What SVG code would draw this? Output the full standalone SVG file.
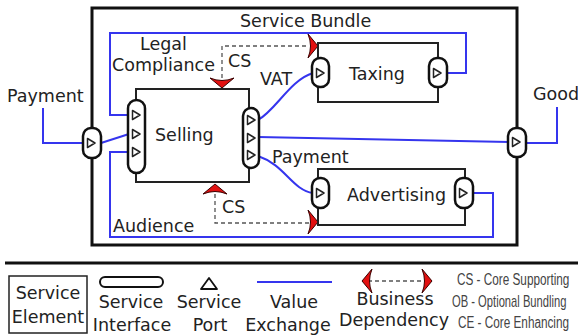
<svg xmlns="http://www.w3.org/2000/svg" width="578" height="335" viewBox="0 0 578 335">
<style>
text{font-family:"DejaVu Sans","Liberation Sans",sans-serif;font-size:17.5px;fill:#222}
.mid{text-anchor:middle}
.leg{font-family:"Liberation Sans",sans-serif;font-size:16px;fill:#444}
.box{fill:#fff;stroke:#222;stroke-width:2}
.port{fill:#fff;stroke:#111;stroke-width:2.5}
.tri{fill:#fff;stroke:#222;stroke-width:1.5;stroke-linejoin:round}
.val{fill:none;stroke:#3535ee;stroke-width:2}
.dep{fill:none;stroke:#555;stroke-width:1.3;stroke-dasharray:4 3}
</style>
<defs>
<path id="tr" class="tri" d="M-3.5,-4.5 L4,0 L-3.5,4.5 Z"/>
<path id="arr" d="M0,0 L-10,-12 Q-5,0 -10,12 Z" fill="#e21010" stroke="#3a0000" stroke-width="1" stroke-linejoin="round"/>
</defs>

<g id="bundle">
<rect x="92" y="8" width="425" height="237" fill="none" stroke="#111" stroke-width="3"/>
<text x="240" y="27">Service Bundle</text>
</g>

<g id="connectors">
<polyline class="val" points="43,108 43,143 83,143"/>
<line class="val" x1="101" y1="143" x2="129" y2="134"/>
<polyline class="val" points="448,73 466,73 466,33 110,33 110,115 129,115"/>
<polyline class="val" points="473,193 493,193 493,237 110,237 110,152 129,152"/>
<path class="val" d="M258,120 C276,110 290,80 313,73"/>
<path class="val" d="M258,156 C285,165 292,190 313,193"/>
<line class="val" x1="258" y1="137" x2="509" y2="142"/>
<polyline class="val" points="526,143 557,143 557,107"/>
<polyline class="dep" points="222,78 222,46 308,46"/>
<polyline class="dep" points="215,194 215,223 309,223"/>
<use href="#arr" transform="translate(222,88) rotate(90)"/>
<use href="#arr" transform="translate(318,46)"/>
<use href="#arr" transform="translate(215,184) rotate(-90)"/>
<use href="#arr" transform="translate(318,222)"/>
</g>

<g id="labels">
<text x="140" y="50">Legal</text>
<text x="112" y="71">Compliance</text>
<text x="228" y="67">CS</text>
<text x="260" y="85">VAT</text>
<text x="7" y="102">Payment</text>
<text x="533" y="100">Good</text>
<text x="272" y="163">Payment</text>
<text x="222" y="213">CS</text>
<text x="113" y="232">Audience</text>
</g>

<g id="outer-port-left">
<rect class="port" x="83" y="128" width="18" height="30" rx="8"/>
<use href="#tr" transform="translate(91,143)"/>
</g>
<g id="outer-port-right">
<rect class="port" x="508" y="128" width="18" height="29" rx="8"/>
<use href="#tr" transform="translate(516,142)"/>
</g>

<g id="selling">
<rect class="box" x="136" y="89" width="113" height="93"/>
<text x="155" y="141">Selling</text>
<rect class="port" x="128" y="100" width="17" height="73" rx="8.5"/>
<use href="#tr" transform="translate(136,115)"/>
<use href="#tr" transform="translate(136,134)"/>
<use href="#tr" transform="translate(136,152)"/>
<rect class="port" x="243" y="108" width="16" height="60" rx="8"/>
<use href="#tr" transform="translate(251,120)"/>
<use href="#tr" transform="translate(251,138)"/>
<use href="#tr" transform="translate(251,155)"/>
</g>

<g id="taxing">
<rect class="box" x="318" y="43" width="120" height="59" stroke-width="1.6"/>
<text x="349" y="80">Taxing</text>
<rect class="port" x="312" y="58" width="17" height="29" rx="8"/>
<use href="#tr" transform="translate(320,73)"/>
<rect class="port" x="429" y="58" width="18" height="29" rx="8"/>
<use href="#tr" transform="translate(437,73)"/>
</g>

<g id="advertising">
<rect class="box" x="318" y="169" width="147" height="56" stroke-width="1.6"/>
<text x="347" y="201">Advertising</text>
<rect class="port" x="312" y="178" width="17" height="30" rx="8"/>
<use href="#tr" transform="translate(320,193)"/>
<rect class="port" x="455" y="178" width="18" height="30" rx="8"/>
<use href="#tr" transform="translate(463,193)"/>
</g>

<g id="legend">
<line x1="5" y1="263" x2="578" y2="263" stroke="#111" stroke-width="3"/>
<rect x="9" y="276" width="78" height="57" fill="#fff" stroke="#222" stroke-width="1.5"/>
<text class="mid" x="48" y="299">Service</text>
<text class="mid" x="48" y="323">Element</text>
<rect x="100" y="277" width="63" height="10" rx="5" fill="#fff" stroke="#111" stroke-width="2"/>
<text class="mid" x="131" y="308">Service</text>
<text class="mid" x="132" y="331">Interface</text>
<path d="M209,278 L217,289 L201,289 Z" fill="#fff" stroke="#111" stroke-width="1.8" stroke-linejoin="round"/>
<text class="mid" x="209" y="308">Service</text>
<text class="mid" x="210" y="331">Port</text>
<line class="val" x1="257" y1="282" x2="332" y2="282"/>
<text class="mid" x="294" y="308">Value</text>
<text class="mid" x="288" y="331">Exchange</text>
<line class="dep" x1="368" y1="281" x2="427" y2="281"/>
<use href="#arr" transform="translate(362,281) rotate(180)"/>
<use href="#arr" transform="translate(432,281)"/>
<text class="mid" x="395" y="305">Business</text>
<text class="mid" x="394" y="326">Dependency</text>
<text class="leg" transform="translate(457,285) scale(0.735,1)">CS - Core Supporting</text>
<text class="leg" transform="translate(452,307) scale(0.70,1)">OB - Optional Bundling</text>
<text class="leg" transform="translate(458,328) scale(0.735,1)">CE - Core Enhancing</text>
</g>
</svg>
